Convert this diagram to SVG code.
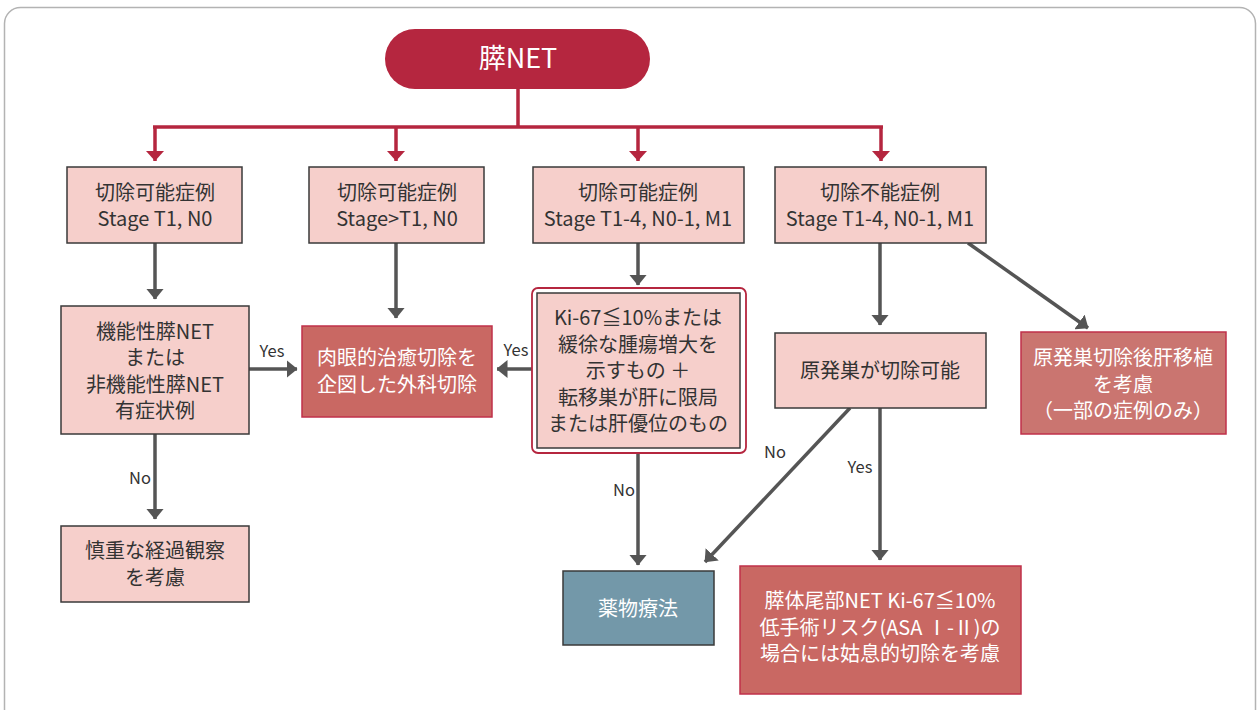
<svg xmlns="http://www.w3.org/2000/svg" width="1258" height="710" viewBox="0 0 1258 710">
<defs>
<style>
text{font-family:"Noto Sans CJK JP","Noto Sans",sans-serif;font-size:20px;text-anchor:middle;fill:#333}
.w{fill:#fff}
.lbl{font-size:16.5px;fill:#333}
.pink{fill:#f6cfcb;stroke:#3a3a3a;stroke-width:1.5}
.coral{fill:#c96863;stroke:#c0304a;stroke-width:1.5}
.coral2{fill:#ca7570;stroke:#c0304a;stroke-width:1.5}
.blue{fill:#7398a9;stroke:#3a3a3a;stroke-width:1.5}
.g{stroke:#555;stroke-width:3.5;fill:none;marker-end:url(#ag)}
.r{stroke:#b5263f;stroke-width:3.5;fill:none}
.ra{stroke:#b5263f;stroke-width:3.5;fill:none;marker-end:url(#ar)}
</style>
<marker id="ag" markerUnits="userSpaceOnUse" markerWidth="11" markerHeight="18" viewBox="0 0 11 18" refX="10.5" refY="9" orient="auto"><path d="M0,0 L11,9 L0,18 z" fill="#555"/></marker>
<marker id="ar" markerUnits="userSpaceOnUse" markerWidth="10" markerHeight="18" viewBox="0 0 10 18" refX="10" refY="9" orient="auto"><path d="M0,0 L10,9 L0,18 z" fill="#b5263f"/></marker>
</defs>
<rect x="0" y="0" width="1258" height="710" fill="#fff"/>
<rect x="4.5" y="7.5" width="1251" height="730" rx="16" fill="#fff" stroke="#b3b3b3" stroke-width="1.5"/>

<g id="connectors">
<path class="r" d="M518,89 V127 M153,127 H883"/>
<path class="ra" d="M155,127 V161"/>
<path class="ra" d="M396,127 V161"/>
<path class="ra" d="M638,127 V161"/>
<path class="ra" d="M881,127 V161"/>
<path class="g" d="M155,243 V299"/>
<path class="g" d="M396,243 V318"/>
<path class="g" d="M638,243 V285"/>
<path class="g" d="M880,243 V325"/>
<path class="g" d="M968,243 L1088,328"/>
<path class="g" d="M249,369 H297"/>
<path class="g" d="M155,434 V519"/>
<path class="g" d="M537,369 H497"/>
<path class="g" d="M638,448 V565"/>
<path class="g" d="M850,408 L705,562"/>
<path class="g" d="M880,408 V560"/>
<text class="lbl" x="272" y="357">Yes</text>
<text class="lbl" x="140" y="484">No</text>
<text class="lbl" x="516" y="356">Yes</text>
<text class="lbl" x="624" y="496">No</text>
<text class="lbl" x="775" y="458">No</text>
<text class="lbl" x="860" y="473">Yes</text>
</g>

<g id="root">
<rect x="385" y="29" width="265" height="60" rx="30" fill="#b5263f"/>
<text class="w" x="518" y="68" style="font-size:27px">膵NET</text>
</g>

<g id="n1">
<rect class="pink" x="67" y="167" width="175" height="76"/>
<text x="155" y="200">切除可能症例<tspan x="155" dy="26">Stage T1, N0</tspan></text>
</g>
<g id="n2">
<rect class="pink" x="309" y="167" width="175" height="76"/>
<text x="397" y="200">切除可能症例<tspan x="397" dy="26">Stage&gt;T1, N0</tspan></text>
</g>
<g id="n3">
<rect class="pink" x="533" y="167" width="211" height="76"/>
<text x="638" y="200">切除可能症例<tspan x="638" dy="26">Stage T1-4, N0-1, M1</tspan></text>
</g>
<g id="n4">
<rect class="pink" x="775" y="167" width="211" height="76"/>
<text x="880" y="200">切除不能症例<tspan x="880" dy="26">Stage T1-4, N0-1, M1</tspan></text>
</g>

<g id="n5">
<rect class="pink" x="61" y="306" width="188" height="128"/>
<text x="155" y="339">機能性膵NET<tspan x="155" dy="26">または</tspan><tspan x="155" dy="27">非機能性膵NET</tspan><tspan x="155" dy="26">有症状例</tspan></text>
</g>
<g id="n6">
<rect class="coral" x="302" y="326" width="190" height="91"/>
<text class="w" x="397" y="365">肉眼的治癒切除を<tspan x="397" dy="27">企図した外科切除</tspan></text>
</g>
<g id="n7">
<rect x="532" y="288" width="214" height="165" rx="6" fill="#fff" stroke="#b5263f" stroke-width="1.8"/>
<rect class="pink" x="537" y="293" width="203" height="155"/>
<text x="638" y="325">Ki-67≦10%または<tspan x="638" dy="27">緩徐な腫瘍増大を</tspan><tspan x="638" dy="26">示すもの ＋</tspan><tspan x="638" dy="27">転移巣が肝に限局</tspan><tspan x="638" dy="26">または肝優位のもの</tspan></text>
</g>
<g id="n8">
<rect class="pink" x="775" y="333" width="211" height="75"/>
<text x="880" y="378">原発巣が切除可能</text>
</g>
<g id="n9">
<rect class="coral2" x="1021" y="332" width="205" height="102"/>
<text class="w" x="1123" y="365">原発巣切除後肝移植<tspan x="1123" dy="27">を考慮</tspan><tspan x="1123" dy="26">（一部の症例のみ）</tspan></text>
</g>
<g id="n10">
<rect class="pink" x="61" y="526" width="188" height="76"/>
<text x="155" y="558">慎重な経過観察<tspan x="155" dy="27">を考慮</tspan></text>
</g>
<g id="n11">
<rect class="blue" x="563" y="571" width="151" height="74"/>
<text class="w" x="638" y="616">薬物療法</text>
</g>
<g id="n12">
<rect class="coral" x="740" y="566" width="281" height="128"/>
<text class="w" x="880" y="608">膵体尾部NET Ki-67≦10%<tspan x="880" dy="27">低手術リスク(ASA Ⅰ-Ⅱ)の</tspan><tspan x="880" dy="26">場合には姑息的切除を考慮</tspan></text>
</g>
</svg>
